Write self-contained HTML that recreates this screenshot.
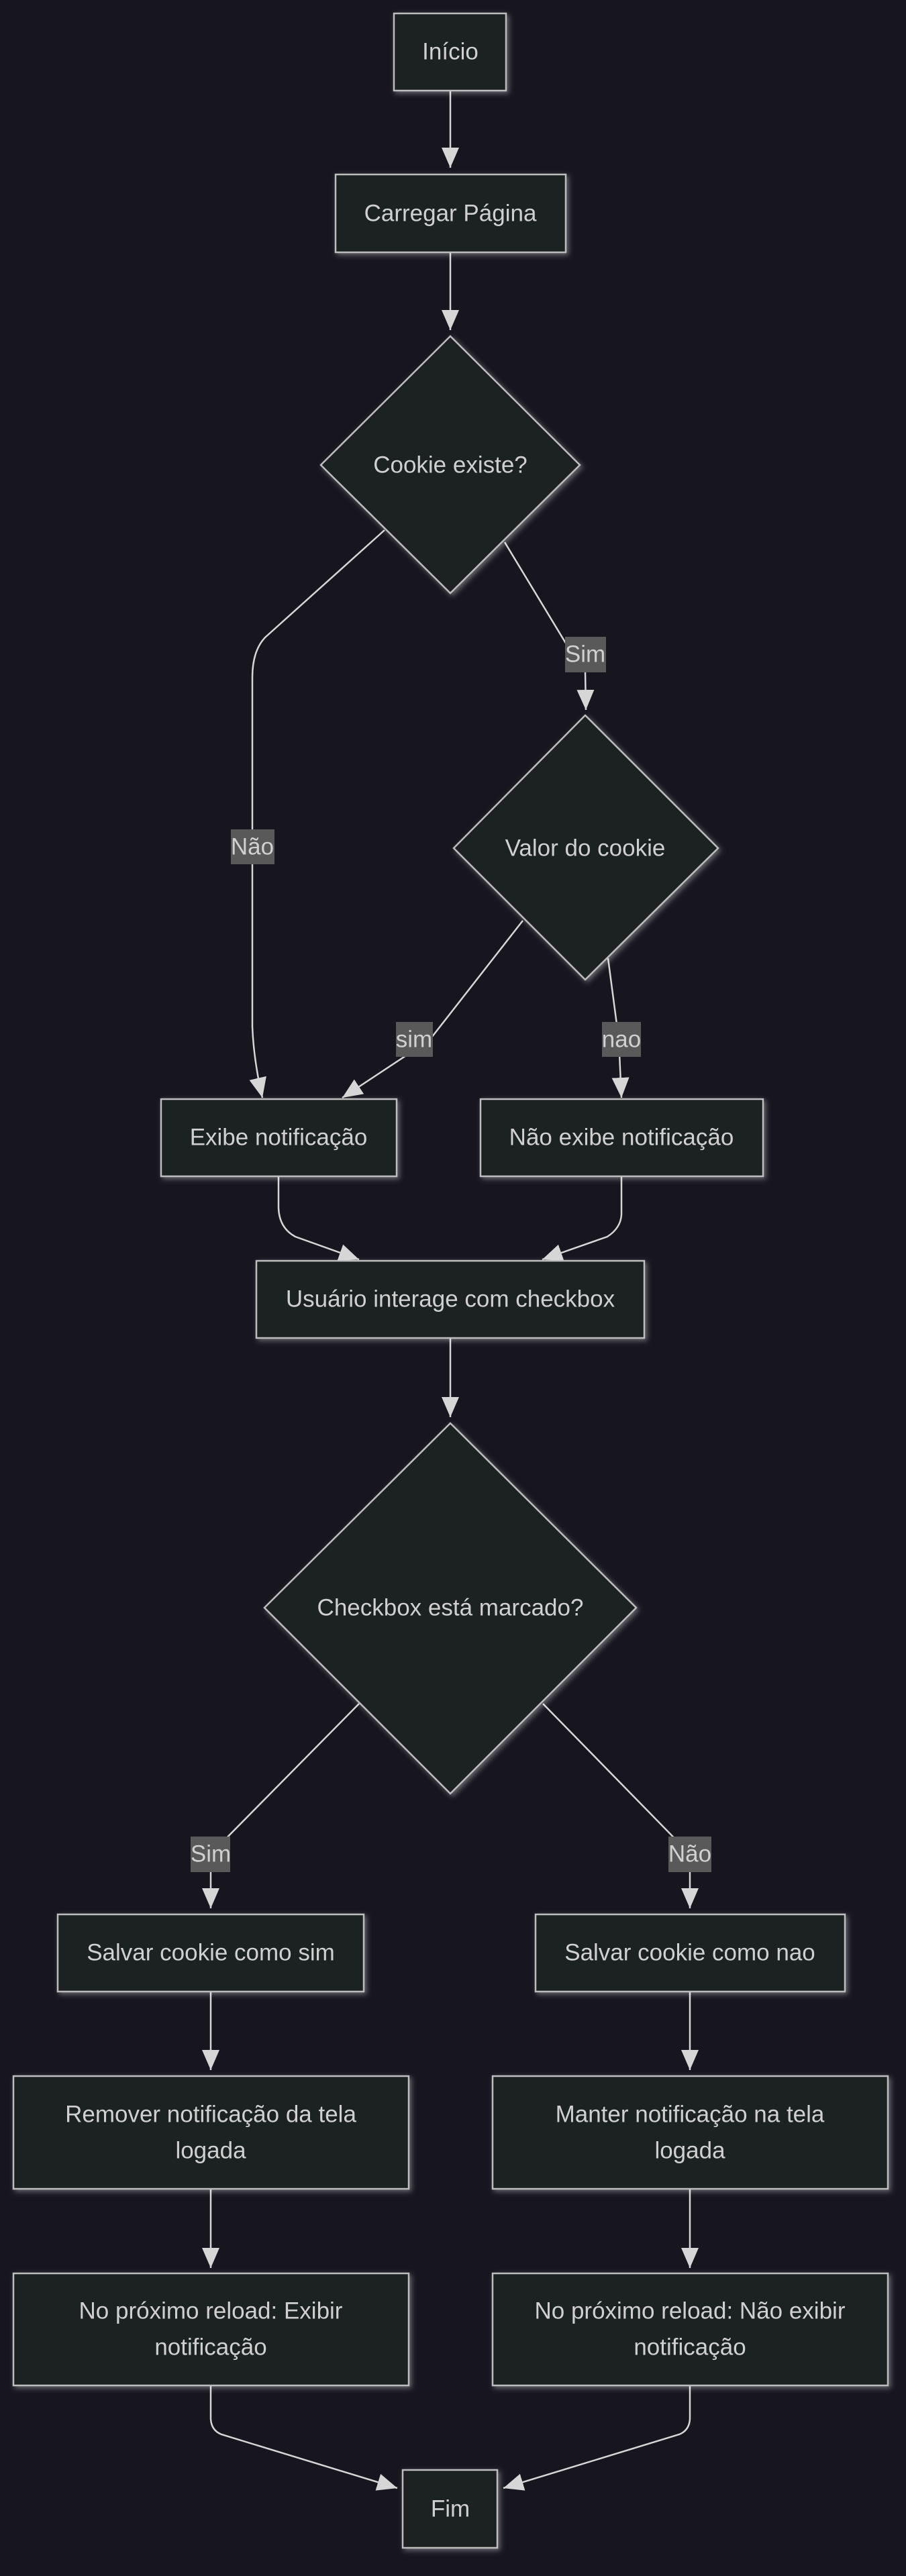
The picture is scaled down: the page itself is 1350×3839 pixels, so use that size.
<!DOCTYPE html>
<html><head><meta charset="utf-8"><style>
html,body{margin:0;padding:0;background:#17161f;}
svg{display:block;}
text{font-family:"Liberation Sans",sans-serif;fill:#d0d0d0;font-size:35px;}
</style></head><body>
<svg width="1350" height="3839" viewBox="0 0 1350 3839" xmlns="http://www.w3.org/2000/svg">
<defs>
<filter id="g" x="-20%" y="-20%" width="140%" height="140%">
<feDropShadow dx="3" dy="3" stdDeviation="4" flood-color="#ffffff" flood-opacity="0.35"/>
</filter>
<marker id="a" markerUnits="userSpaceOnUse" markerWidth="32" markerHeight="32" refX="30" refY="13" orient="auto">
<path d="M0,0 L30,13 L0,26 Z" fill="#d6d6d6"/>
</marker>
</defs>
<rect width="1350" height="3839" fill="#17161f"/>
<g fill="none" stroke="#d6d6d6" stroke-width="2.5">
<path d="M671,135 L671,250" marker-end="url(#a)"/>
<path d="M671,376 L671,492" marker-end="url(#a)"/>
<path d="M573,790 L395,950 Q376,970 376,1010 L376,1530 Q378,1580 391,1636" marker-end="url(#a)"/>
<path d="M752,808 L853,975 L872,1000 L873,1058" marker-end="url(#a)"/>
<path d="M779,1372 L640,1550 L510,1636" marker-end="url(#a)"/>
<path d="M906,1428 L922,1549 L926,1636" marker-end="url(#a)"/>
<path d="M415,1753 L415,1800 Q416,1830 440,1843 L535,1877" marker-end="url(#a)"/>
<path d="M926,1753 L926,1810 Q925,1830 905,1843 L808,1877" marker-end="url(#a)"/>
<path d="M671,1994 L671,2112" marker-end="url(#a)"/>
<path d="M535,2539 L314,2763 L314,2844" marker-end="url(#a)"/>
<path d="M809,2539 L1028,2763 L1028,2844" marker-end="url(#a)"/>
<path d="M314,2968 L314,3085" marker-end="url(#a)"/>
<path d="M1028,2968 L1028,3085" marker-end="url(#a)"/>
<path d="M314,3262 L314,3380" marker-end="url(#a)"/>
<path d="M1028,3262 L1028,3380" marker-end="url(#a)"/>
<path d="M314,3555 L314,3605 Q315,3622 330,3628 L592,3708" marker-end="url(#a)"/>
<path d="M1028,3555 L1028,3605 Q1027,3622 1012,3628 L750,3708" marker-end="url(#a)"/>
</g>
<g fill="#1f2020" stroke="#bdbdbd" stroke-width="2.5" filter="url(#g)">
<rect x="587" y="20" width="167" height="115"/>
<rect x="500" y="260" width="343" height="116"/>
<polygon points="671,501 864,693 671,884 478,693"/>
<polygon points="872,1066 1070,1264 872,1460 676,1264"/>
<rect x="240" y="1638" width="351" height="115"/>
<rect x="716" y="1638" width="421" height="115"/>
<rect x="382" y="1879" width="578" height="115"/>
<polygon points="671,2121 948,2396 671,2673 394,2396"/>
<rect x="86" y="2853" width="456" height="115"/>
<rect x="798" y="2853" width="461" height="115"/>
<rect x="20" y="3094" width="589" height="168"/>
<rect x="734" y="3094" width="589" height="168"/>
<rect x="20" y="3388" width="589" height="167"/>
<rect x="734" y="3388" width="589" height="167"/>
<rect x="600" y="3681" width="141" height="116"/>
</g>
<g fill="#595959">
<rect x="344" y="1236" width="65" height="52"/>
<rect x="842" y="949" width="61" height="53"/>
<rect x="590" y="1523" width="55" height="52"/>
<rect x="897" y="1523" width="58" height="52"/>
<rect x="284" y="2737" width="59" height="53"/>
<rect x="996" y="2737" width="64" height="53"/>
</g>
<g text-anchor="middle" dominant-baseline="central">
<text x="376" y="1262">Não</text>
<text x="872" y="975">Sim</text>
<text x="617" y="1549">sim</text>
<text x="926" y="1549">nao</text>
<text x="314" y="2763">Sim</text>
<text x="1028" y="2763">Não</text>
<text x="671" y="77">Início</text>
<text x="671" y="318">Carregar Página</text>
<text x="671" y="693">Cookie existe?</text>
<text x="872" y="1264">Valor do cookie</text>
<text x="415" y="1695">Exibe notificação</text>
<text x="926" y="1695">Não exibe notificação</text>
<text x="671" y="1936">Usuário interage com checkbox</text>
<text x="671" y="2396">Checkbox está marcado?</text>
<text x="314" y="2910">Salvar cookie como sim</text>
<text x="1028" y="2910">Salvar cookie como nao</text>
<text x="314" y="3151">Remover notificação da tela</text>
<text x="314" y="3205">logada</text>
<text x="1028" y="3151">Manter notificação na tela</text>
<text x="1028" y="3205">logada</text>
<text x="314" y="3444">No próximo reload: Exibir</text>
<text x="314" y="3498">notificação</text>
<text x="1028" y="3444">No próximo reload: Não exibir</text>
<text x="1028" y="3498">notificação</text>
<text x="671" y="3739">Fim</text>
</g>
</svg>
</body></html>
